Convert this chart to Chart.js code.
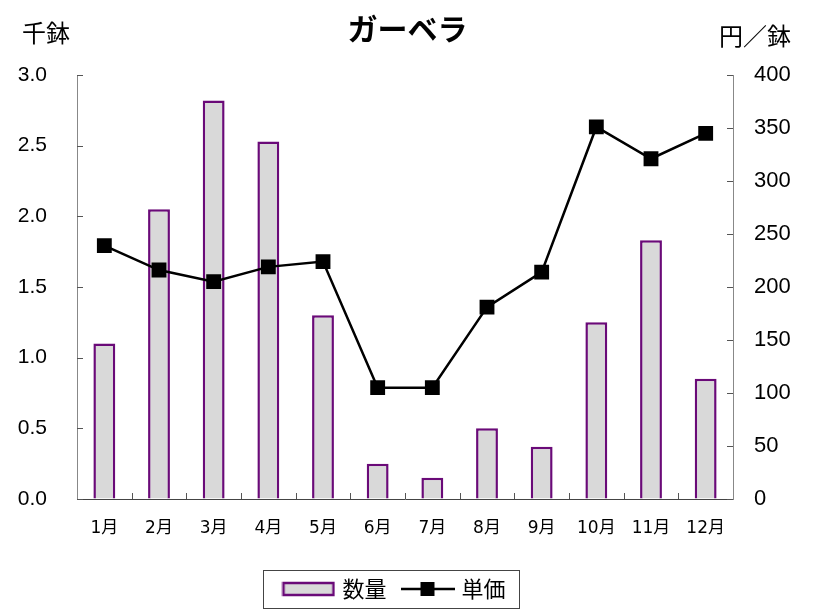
<!DOCTYPE html>
<html>
<head>
<meta charset="utf-8">
<script src="https://cdn.jsdelivr.net/npm/chart.js@4"></script>
<style>
  html, body { margin: 0; padding: 0; background: #fff; }
  #wrap { width: 815px; height: 610px; }
</style>
</head>
<body>
<div id="wrap"><canvas id="myChart" width="815" height="610"></canvas></div>
<script>
const months = ['1月','2月','3月','4月','5月','6月','7月','8月','9月','10月','11月','12月'];
const quantity = [1.10, 2.05, 2.82, 2.53, 1.30, 0.25, 0.15, 0.50, 0.37, 1.25, 1.83, 0.85];   // 千鉢
const unitPrice = [239, 216, 205, 219, 224, 105, 105, 181, 214, 351, 321, 345];              // 円／鉢
const leftTicks = [0, 0.5, 1.0, 1.5, 2.0, 2.5, 3.0];
const rightTicks = [0, 50, 100, 150, 200, 250, 300, 350, 400];

const jp = '"Noto Sans CJK JP", sans-serif';
const num = '"Liberation Sans", Arial, sans-serif';
const purple = '#6A0A78';

// legend swatches
function barSwatch() {
  const c = document.createElement('canvas');
  c.width = 54; c.height = 16;
  const x = c.getContext('2d');
  x.fillStyle = '#d9d9d9';
  x.fillRect(2, 2, 50, 12);
  x.strokeStyle = purple; x.lineWidth = 2.5;
  x.strokeRect(2, 2, 50, 12);
  return c;
}
function lineSwatch() {
  const c = document.createElement('canvas');
  c.width = 54; c.height = 18;
  const x = c.getContext('2d');
  x.strokeStyle = '#000'; x.lineWidth = 2.5;
  x.beginPath(); x.moveTo(0, 9); x.lineTo(54, 9); x.stroke();
  x.fillStyle = '#000';
  x.fillRect(20, 2, 14, 14);
  return c;
}

// inner tick marks + unit labels + legend frame
const extras = {
  id: 'extras',
  afterLayout(chart) {
    // legend sits a little left of centre in the original
    chart.legend.left -= 12;
    chart.legend.right -= 12;
  },
  afterDraw(chart) {
    const ctx = chart.ctx;
    const a = chart.chartArea;
    const s = chart.scales;
    ctx.save();
    ctx.lineWidth = 1;
    ctx.strokeStyle = '#555';
    ctx.beginPath();
    s.y.ticks.forEach(t => {
      const yy = Math.round(s.y.getPixelForValue(t.value)) + 0.5;
      ctx.moveTo(a.left, yy); ctx.lineTo(a.left + 6, yy);
    });
    s.y1.ticks.forEach(t => {
      const yy = Math.round(s.y1.getPixelForValue(t.value)) + 0.5;
      ctx.moveTo(a.right, yy); ctx.lineTo(a.right - 6, yy);
    });
    for (let i = 1; i < months.length; i++) {
      const xx = Math.round((s.x.getPixelForTick(i - 1) + s.x.getPixelForTick(i)) / 2) + 0.5;
      ctx.moveTo(xx, a.bottom); ctx.lineTo(xx, a.bottom - 6);
    }
    ctx.stroke();

    ctx.fillStyle = '#000';
    ctx.font = '24px ' + jp;
    ctx.textBaseline = 'middle';
    ctx.textAlign = 'left';
    ctx.fillText('千鉢', 22, 33);
    ctx.textAlign = 'right';
    ctx.fillText('円／鉢', 791, 36);

    const boxes = chart.legend.legendHitBoxes;
    if (boxes && boxes.length) {
      const first = boxes[0], last = boxes[boxes.length - 1];
      const l = first.left - 22, r = last.left + last.width + 14;
      const top = first.top + first.height / 2 - 19;
      ctx.strokeStyle = '#444';
      ctx.lineWidth = 1;
      ctx.strokeRect(Math.round(l) + 0.5, Math.round(top) + 0.5, Math.round(r - l), 38);
    }
    ctx.restore();
  }
};

const barLegendImg = barSwatch();
const lineLegendImg = lineSwatch();

const data = {
  labels: months,
  datasets: [{
    type: 'bar',
    label: '数量',
    data: quantity,
    yAxisID: 'y',
    backgroundColor: '#d9d9d9',
    borderColor: purple,
    borderWidth: 2.5,
    barPercentage: 0.4,
    categoryPercentage: 1.0,
    order: 1
  }, {
    type: 'line',
    label: '単価',
    data: unitPrice,
    yAxisID: 'y1',
    borderColor: '#000',
    backgroundColor: '#000',
    borderWidth: 2.5,
    pointStyle: 'rect',
    pointRadius: 10.5,
    pointBorderWidth: 0,
    tension: 0,
    order: 0
  }]
};

const config = {
  data: data,
  options: {
    responsive: false,
    animation: false,
    layout: { padding: { left: 0, right: 0, top: 0, bottom: 0 } },
    plugins: {
      title: {
        display: true,
        text: 'ガーベラ',
        color: '#000',
        font: { family: jp, size: 30, weight: 'bold' },
        padding: { top: 11, bottom: 28 }
      },
      legend: {
        position: 'bottom',
        labels: {
          usePointStyle: true,
          pointStyleWidth: 46,
          padding: 18,
          color: '#000',
          font: { family: jp, size: 22 },
          generateLabels: (chart) => chart.data.datasets.map((d, i) => ({
            text: d.label,
            datasetIndex: i,
            pointStyle: i === 0 ? barLegendImg : lineLegendImg,
            fillStyle: 'transparent',
            strokeStyle: 'transparent',
            lineWidth: 0,
            fontColor: '#000',
            hidden: false
          }))
        }
      },
      tooltip: { enabled: false }
    },
    scales: {
      x: {
        grid: { display: true, drawOnChartArea: false, drawTicks: false, offset: true },
        border: { color: '#444', width: 1 },
        ticks: { color: '#000', padding: 19, font: { family: '"DejaVu Sans", "Noto Sans CJK JP", sans-serif', size: 17 } },
        afterFit: (sc) => { sc.height = 61; }
      },
      y: {
        position: 'left',
        min: 0, max: 3,
        afterBuildTicks: (sc) => { sc.ticks = leftTicks.map(v => ({ value: v })); },
        grid: { drawOnChartArea: false, drawTicks: false },
        border: { color: '#888', width: 1 },
        ticks: {
          color: '#000', padding: 30,
          font: { family: num, size: 21 },
          callback: (v) => v.toFixed(1)
        },
        afterFit: (sc) => { sc.width = 77; }
      },
      y1: {
        position: 'right',
        min: 0, max: 400,
        afterBuildTicks: (sc) => { sc.ticks = rightTicks.map(v => ({ value: v })); },
        grid: { drawOnChartArea: false, drawTicks: false },
        border: { color: '#888', width: 1 },
        ticks: {
          color: '#000', padding: 21,
          font: { family: num, size: 22 }
        },
        afterFit: (sc) => { sc.width = 82; }
      }
    }
  },
  plugins: [extras]
};

const myChart = new Chart(document.getElementById('myChart').getContext('2d'), config);
</script>
</body>
</html>
